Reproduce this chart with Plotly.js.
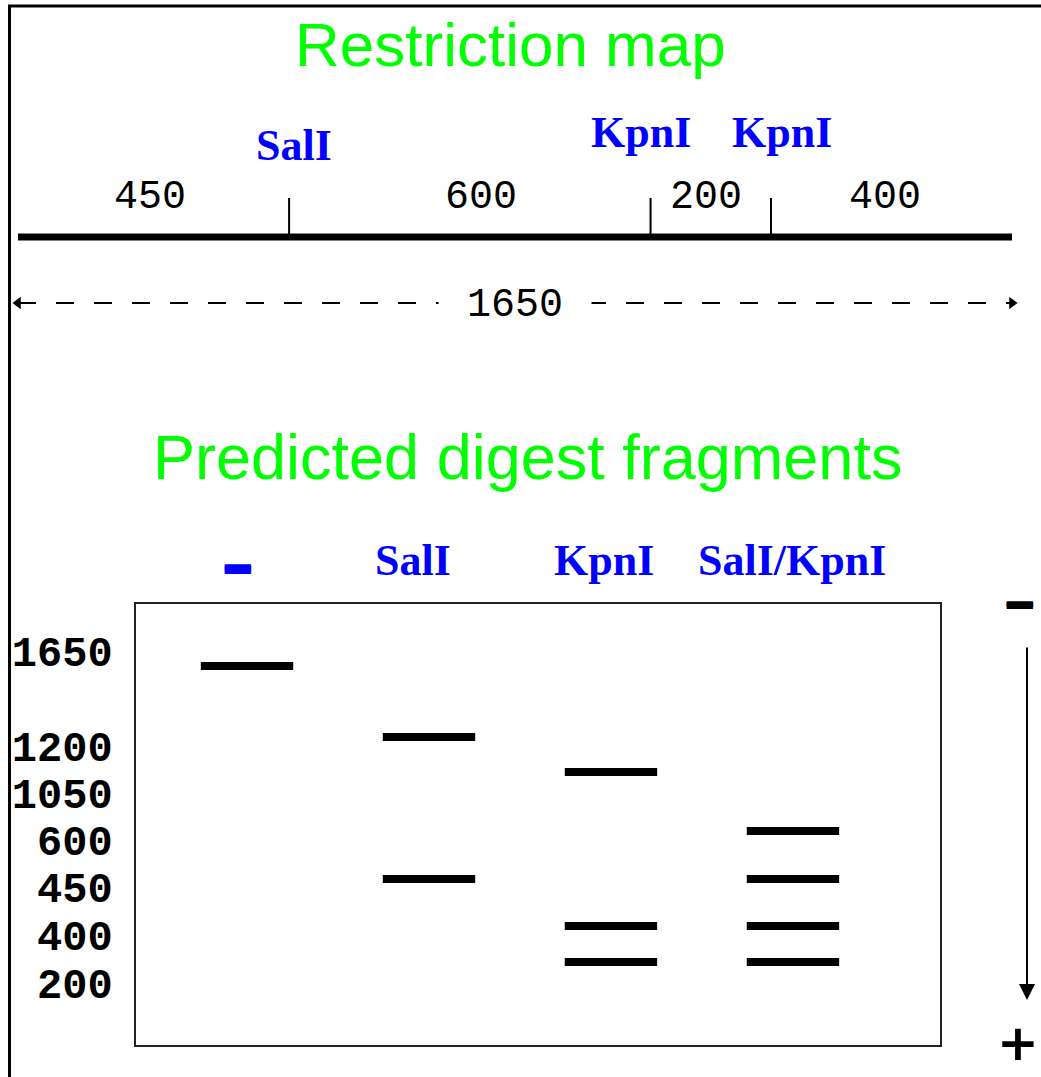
<!DOCTYPE html>
<html><head><meta charset="utf-8">
<script src="https://cdn.plot.ly/plotly-3.0.1.min.js"></script>
<style>html,body{margin:0;padding:0;background:#fff;} #chart{width:1041px;height:1077px;}</style>
</head><body><div id="chart"></div>
<script>
// ---------------- data ----------------
const genomeLength = 1650;
const fragmentLengths = [450, 600, 200, 400];          // fragments along the map, left to right
const siteEnzymes = ['SalI', 'KpnI', 'KpnI'];
const sitePositions = [450, 1050, 1250];               // bp

const lanes = ['−', 'SalI', 'KpnI', 'SalI/KpnI'];
const laneBands = [[1650], [1200, 450], [1050, 400, 200], [600, 450, 400, 200]];
const ladderSizes = [1650, 1200, 1050, 600, 450, 400, 200];
const bandMigration = [62, 133, 168, 227, 275, 322, 358];        // migration distance (gel units) of each size
const ladderLabelMigration = [47, 142, 189, 236, 283, 331, 379]; // where each size label is written

// ---------------- layout constants (style) ----------------
const W = 1041, H = 1077;
const px = v => v / W, py = v => 1 - v / H;
const BP0 = 18, BP_SCALE = 994 / genomeLength;       // map x-axis placement
const MAP_LINE_Y = 237, TICK_TOP = 198, DIM_Y = 303, FRAG_Y = 197.5;
const siteLabelY = [145, 132, 132], siteLabelShift = [5, -10, 11];
const fragLabelShift = [-4, 11, -5, -7];
const laneLabelShift = [-10, -16, -7, -1];
const GREEN = '#00ff00', BLUE = '#0000ff';
const serifBold = {family: 'Liberation Serif', size: 44, color: BLUE, weight: 700};
const mono = {family: 'Liberation Mono', size: 40, color: '#000'};
const C = {xanchor: 'center', yanchor: 'middle', showarrow: false};

// ---------------- traces ----------------
const traces = [];
// main map line
traces.push({x: [0, genomeLength], y: [MAP_LINE_Y, MAP_LINE_Y], xaxis: 'x', yaxis: 'y', mode: 'lines',
  line: {color: '#000', width: 7}, hoverinfo: 'skip', cliponaxis: false});
// site ticks
const tx = [], ty = [];
sitePositions.forEach(s => { tx.push(s, s, null); ty.push(TICK_TOP, MAP_LINE_Y, null); });
traces.push({x: tx, y: ty, xaxis: 'x', yaxis: 'y', mode: 'lines', line: {color: '#000', width: 2},
  hoverinfo: 'skip', cliponaxis: false});
// dimension line
traces.push({x: [0, genomeLength], y: [DIM_Y, DIM_Y], xaxis: 'x', yaxis: 'y', mode: 'lines+markers',
  line: {color: '#000', width: 2, dash: '18px,20px'},
  marker: {symbol: ['triangle-left', 'triangle-right'], size: 11, color: '#000'},
  hoverinfo: 'skip', cliponaxis: false});
// gel bands
lanes.forEach((lane, i) => {
  const ys = laneBands[i].map(s => bandMigration[ladderSizes.indexOf(s)]);
  traces.push({x: ys.map(() => lane), y: ys, xaxis: 'x2', yaxis: 'y2', mode: 'markers',
    marker: {symbol: 'line-ew', size: 66, color: '#000', line: {color: '#000', width: 8}},
    hoverinfo: 'skip', cliponaxis: false});
});

// ---------------- annotations ----------------
const ann = [];
ann.push({...C, text: 'Restriction map', xref: 'paper', yref: 'paper', x: px(510), y: py(44),
  font: {family: 'Liberation Sans', size: 62, color: GREEN}});
ann.push({...C, text: 'Predicted digest fragments', xref: 'paper', yref: 'paper', x: px(527), y: py(457),
  font: {family: 'Liberation Sans', size: 63, color: GREEN}});
siteEnzymes.forEach((e, i) => ann.push({...C, text: e, xref: 'x', yref: 'y', x: sitePositions[i], y: siteLabelY[i],
  xshift: siteLabelShift[i], font: serifBold}));
let start = 0;
fragmentLengths.forEach((len, i) => {
  ann.push({...C, text: String(len), xref: 'x', yref: 'y', x: start + len / 2, y: FRAG_Y, xshift: fragLabelShift[i],
    font: mono});
  start += len;
});
ann.push({...C, text: String(genomeLength), xref: 'x', yref: 'y', x: genomeLength / 2, y: DIM_Y + 2,
  font: mono, bgcolor: '#fff', borderpad: 28});
lanes.forEach((lane, i) => {
  if (lane === '−') {
    ann.push({...C, text: lane, xref: 'x2', yref: 'paper', x: i, y: py(567), xshift: laneLabelShift[i],
      font: {family: 'DejaVu Sans', size: 42, weight: 700, color: BLUE, shadow: '0 2.5px 0 #0000ff, 0 -2.5px 0 #0000ff'}});
  } else {
    ann.push({...C, text: lane, xref: 'x2', yref: 'paper', x: i, y: py(560), xshift: laneLabelShift[i],
      font: serifBold});
  }
});
// electrophoresis direction
ann.push({...C, text: '−', xref: 'paper', yref: 'paper', x: px(1019), y: py(603),
  font: {family: 'DejaVu Sans', size: 42, weight: 700, color: '#000', shadow: '0 1.5px 0 #000, 0 -1.5px 0 #000'}});
ann.push({...C, text: '+', xref: 'paper', yref: 'paper', x: px(1018), y: py(1043),
  font: {family: 'DejaVu Sans', size: 50, weight: 700, color: '#000'}});
ann.push({text: '', xref: 'paper', yref: 'paper', x: px(1027), y: py(1000), ax: 0, ay: -354,
  showarrow: true, arrowhead: 2, arrowsize: 1.6, arrowwidth: 2, arrowcolor: '#000', standoff: 0});

// ---------------- layout ----------------
const layout = {
  width: W, height: H, margin: {l: 0, r: 0, t: 0, b: 0},
  paper_bgcolor: '#fff', plot_bgcolor: 'rgba(0,0,0,0)', showlegend: false,
  xaxis: {domain: [0, 1], range: [-BP0 / BP_SCALE, (W - BP0) / BP_SCALE], visible: false, fixedrange: true},
  yaxis: {domain: [0, 1], range: [H, 0], visible: false, fixedrange: true},
  xaxis2: {domain: [px(136), px(940)], anchor: 'y2', type: 'category', categoryarray: lanes,
    range: [-0.61, 3.808], showline: true, mirror: true, linecolor: '#222', linewidth: 2,
    showgrid: false, zeroline: false, showticklabels: false, ticks: '', fixedrange: true},
  yaxis2: {domain: [py(1045), py(604)], anchor: 'x2', range: [441, 0],
    tickvals: ladderLabelMigration, ticktext: ladderSizes.map(String),
    tickfont: {family: 'Liberation Mono', size: 42, color: '#000', weight: 700},
    ticks: 'outside', ticklen: 13, tickcolor: 'rgba(0,0,0,0)',
    showline: true, mirror: true, linecolor: '#222', linewidth: 2, showgrid: false, zeroline: false, fixedrange: true},
  annotations: ann,
  shapes: [
    {type: 'line', xref: 'paper', yref: 'paper', x0: px(8), x1: 1, y0: py(6), y1: py(6), line: {color: '#000', width: 3}},
    {type: 'line', xref: 'paper', yref: 'paper', x0: px(9.5), x1: px(9.5), y0: py(5), y1: 0, line: {color: '#000', width: 3}}
  ]
};

Plotly.newPlot('chart', traces, layout, {staticPlot: true, displayModeBar: false});
</script>
</body></html>
